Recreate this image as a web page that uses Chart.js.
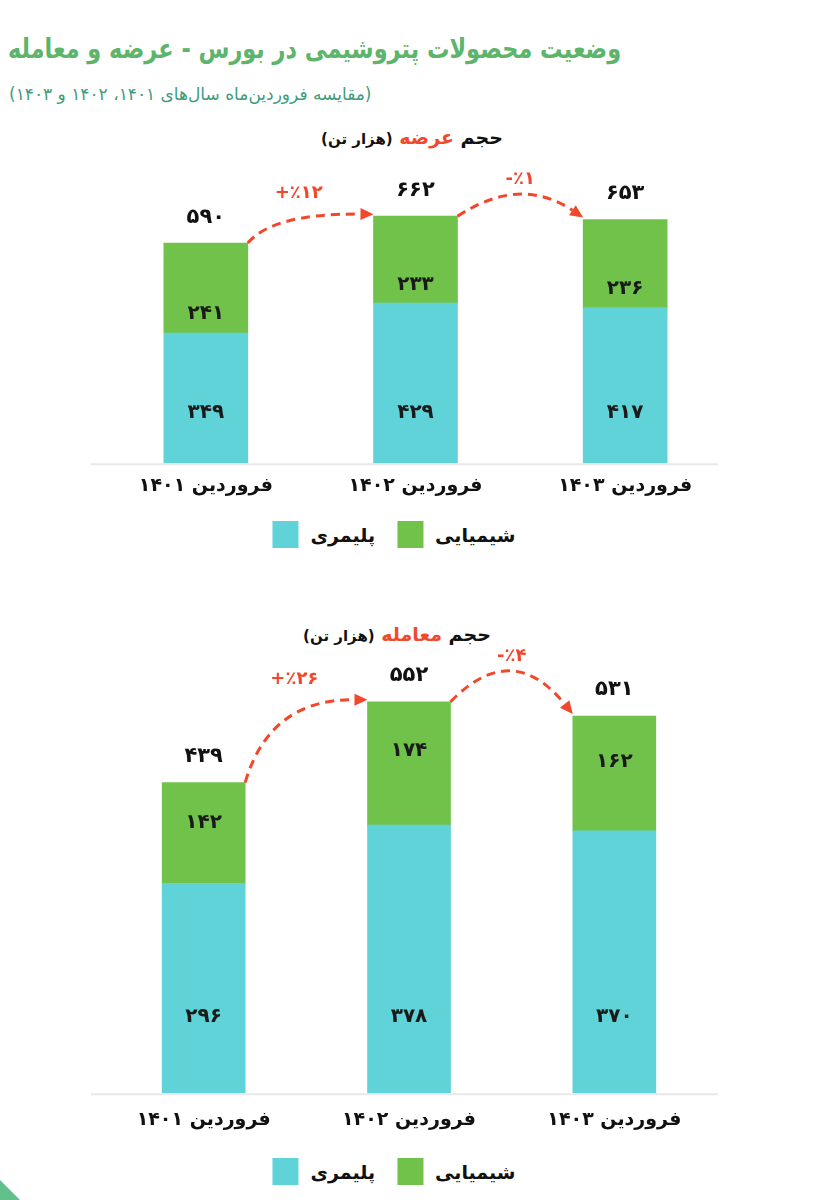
<!DOCTYPE html>
<html lang="fa">
<head>
<meta charset="utf-8">
<script src="https://cdn.jsdelivr.net/npm/chart.js@4.4.1/dist/chart.umd.min.js"></script>
<style>
  html, body { margin: 0; padding: 0; background: #fff; }
  body { width: 840px; height: 1200px; position: relative; overflow: hidden; font-family: "DejaVu Sans", sans-serif; }
  .title { position: absolute; left: 8px; top: 33px; direction: rtl; white-space: nowrap; color: #5cb56a; font-weight: bold; font-size: 27px; transform: scaleX(0.83); transform-origin: left center; }
  .subtitle { position: absolute; left: 9px; top: 84px; direction: rtl; white-space: nowrap; color: #3f9c7c; font-size: 17px; }
  .chart-title { position: absolute; direction: rtl; white-space: nowrap; font-weight: bold; font-size: 19px; color: #111; transform: translateX(-50%); }
  .chart-title .hl { color: #f04a2c; }
  .chart-title small { font-size: 15px; }
  canvas { position: absolute; left: 0; }
  .legend { position: absolute; display: flex; direction: ltr; align-items: center; transform: translateX(-50%); font-weight: bold; font-size: 19px; color: #111; white-space: nowrap; }
  .legend .item { display: flex; align-items: center; margin: 0 11px; }
  .legend .swatch { width: 26px; height: 27px; margin-right: 12px; }
  .corner { position: absolute; left: 0; top: 1180px; width: 20px; height: 20px; background: #62c08c; clip-path: polygon(0 0, 100% 100%, 0 100%); }
</style>
</head>
<body>
<div class="title">وضعیت محصولات پتروشیمی در بورس - عرضه و معامله</div>
<div class="subtitle">(مقایسه فروردین‌ماه سال‌های ۱۴۰۱، ۱۴۰۲ و ۱۴۰۳)</div>

<div class="chart-title" style="left:412px; top:126px;">حجم <span class="hl">عرضه</span> <small>(هزار تن)</small></div>
<canvas id="chart-supply" width="840" height="360" style="top:150px;"></canvas>
<div class="legend" id="legend-supply" style="left:394px; top:521px;"></div>

<div class="chart-title" style="left:397px; top:623px;">حجم <span class="hl">معامله</span> <small>(هزار تن)</small></div>
<canvas id="chart-trade" width="840" height="528" style="top:620px;"></canvas>
<div class="legend" id="legend-trade" style="left:394px; top:1158px;"></div>

<div class="corner"></div>

<script>
// ── Data ──────────────────────────────────────────────────────────────────
const periods        = ["فروردین ۱۴۰۱", "فروردین ۱۴۰۲", "فروردین ۱۴۰۳"];
const seriesNames    = ["پلیمری", "شیمیایی"];

const supplyPolymer  = [349, 429, 417];
const supplyChemical = [241, 233, 236];
const supplyTotal    = [590, 662, 653];
const supplyChange   = [12, -1];

const tradePolymer   = [296, 378, 370];
const tradeChemical  = [142, 174, 162];
const tradeTotal     = [439, 552, 531];
const tradeChange    = [26, -4];

const FONT   = "'DejaVu Sans', sans-serif";
const RED    = "#f2472b";
const CYAN   = "#60d3d9";
const GREEN  = "#71c24b";

const faDigits = "۰۱۲۳۴۵۶۷۸۹";
const fa = n => String(n).replace(/\d/g, d => faDigits[d]);
const pct = v => (v > 0 ? "+" : "-") + "٪" + fa(Math.abs(v));

// ── Labels, baseline and change arrows ────────────────────────────────────

const barDecor = {
  id: "barDecor",
  beforeDatasetsDraw(chart, args, opts) {
    const ctx = chart.ctx;
    const y0 = chart.scales.y.getPixelForValue(0);
    const { left, right } = chart.chartArea;
    ctx.save();
    ctx.strokeStyle = "#e8e8e8";
    ctx.lineWidth = 2;
    ctx.beginPath();
    ctx.moveTo(left + opts.lineFrom, y0 + 1);
    ctx.lineTo(right + opts.lineTo, y0 + 1);
    ctx.stroke();
    ctx.restore();
  },
  afterDatasetsDraw(chart, args, opts) {
    const ctx = chart.ctx;
    const low = chart.getDatasetMeta(0).data;
    const high = chart.getDatasetMeta(1).data;
    const lowVals = chart.data.datasets[0].data;
    const highVals = chart.data.datasets[1].data;

    ctx.save();
    ctx.textAlign = "center";
    ctx.textBaseline = "middle";

    // values inside the segments
    ctx.font = `bold 20px ${FONT}`;
    ctx.fillStyle = "#1a1a1a";
    low.forEach((bar, i) => ctx.fillText(fa(lowVals[i]), bar.x, bar.base - opts.lowOffset));
    high.forEach((bar, i) => {
      const y = bar.base - (bar.base - bar.y) * opts.highFrac;
      ctx.fillText(fa(highVals[i]), bar.x, y);
    });

    // totals above the bars
    ctx.font = `bold 21px ${FONT}`;
    ctx.fillStyle = "#111";
    high.forEach((bar, i) => ctx.fillText(fa(opts.totals[i]), bar.x, bar.y - 26));

    // dashed arrows between neighbouring bars
    for (let i = 0; i < high.length - 1; i++) {
      const a = high[i], b = high[i + 1];
      const s = { x: a.x + a.width / 2, y: a.y };
      const t = { x: b.x - b.width / 2, y: b.y - 2 };
      let c, lx, ly;
      if (t.y < s.y) {
        c = { x: s.x + 0.2 * (t.x - s.x), y: t.y - 1 };
        lx = (s.x + t.x) / 2 - 12;
        ly = t.y - 21;
      } else {
        c = { x: (s.x + t.x) / 2, y: Math.min(s.y, t.y) - opts.arc };
        const peak = 0.25 * s.y + 0.5 * c.y + 0.25 * t.y;
        lx = (s.x + t.x) / 2;
        ly = peak - 17;
      }
      const dx = t.x - c.x, dy = t.y - c.y;
      const len = Math.hypot(dx, dy);
      const ux = dx / len, uy = dy / len;
      const head = 13, half = 6;
      const bx = t.x - ux * head, by = t.y - uy * head;

      ctx.strokeStyle = RED;
      ctx.lineWidth = 3;
      ctx.setLineDash([9, 6]);
      ctx.beginPath();
      ctx.moveTo(s.x, s.y);
      ctx.quadraticCurveTo(c.x, c.y, bx, by);
      ctx.stroke();
      ctx.setLineDash([]);

      ctx.fillStyle = RED;
      ctx.beginPath();
      ctx.moveTo(t.x, t.y);
      ctx.lineTo(bx - uy * half, by + ux * half);
      ctx.lineTo(bx + uy * half, by - ux * half);
      ctx.closePath();
      ctx.fill();

      ctx.font = `bold 18px ${FONT}`;
      ctx.fillText(pct(opts.changes[i]), lx, ly);
    }
    ctx.restore();
  }
};

// ── Legend (html, built from the datasets) ────────────────────────────────

function renderLegend(chart, id) {
  const el = document.getElementById(id);
  el.innerHTML = "";
  chart.data.datasets.forEach(ds => {
    const item = document.createElement("div");
    item.className = "item";
    item.innerHTML = `<span class="swatch" style="background:${ds.backgroundColor}"></span><span dir="rtl">${ds.label}</span>`;
    el.appendChild(item);
  });
}

// ── Charts ────────────────────────────────────────────────────────────────

function makeChart(id, polymer, chemical, totals, changes, look) {
  return new Chart(document.getElementById(id), {
    type: "bar",
    data: {
      labels: periods,
      datasets: [
        { label: seriesNames[0], data: polymer,  backgroundColor: CYAN,  barThickness: look.bar },
        { label: seriesNames[1], data: chemical, backgroundColor: GREEN, barThickness: look.bar },
      ],
    },
    options: {
      responsive: false,
      animation: false,
      layout: { padding: look.padding },
      scales: {
        x: {
          stacked: true,
          grid: { display: false },
          border: { display: false },
          ticks: { color: "#111", padding: look.tickPad, font: { family: FONT, size: 19, weight: "bold" } },
        },
        y: { stacked: true, display: false, min: 0, max: look.max },
      },
      plugins: {
        legend: { display: false },
        tooltip: { enabled: false },
        barDecor: {
          totals, changes,
          lowOffset: look.lowOffset, highFrac: look.highFrac, arc: look.arc,
          lineFrom: look.lineFrom, lineTo: look.lineTo,
        },
      },
    },
    plugins: [barDecor],
  });
}

const supplyChart = makeChart("chart-supply", supplyPolymer, supplyChemical, supplyTotal, supplyChange, {
  bar: 84, max: 759, tickPad: 3,
  padding: { top: 30, left: 101, right: 110, bottom: 10 },
  lowOffset: 50, highFrac: 0.21, arc: 41, lineFrom: -10, lineTo: -12,
});
renderLegend(supplyChart, "legend-supply");

const tradeChart = makeChart("chart-trade", tradePolymer, tradeChemical, tradeTotal, tradeChange, {
  bar: 83, max: 611, tickPad: 7,
  padding: { top: 40, left: 101, right: 123, bottom: 10 },
  lowOffset: 76, highFrac: 0.6, arc: 63, lineFrom: -10, lineTo: 1,
});
renderLegend(tradeChart, "legend-trade");
</script>
</body>
</html>
